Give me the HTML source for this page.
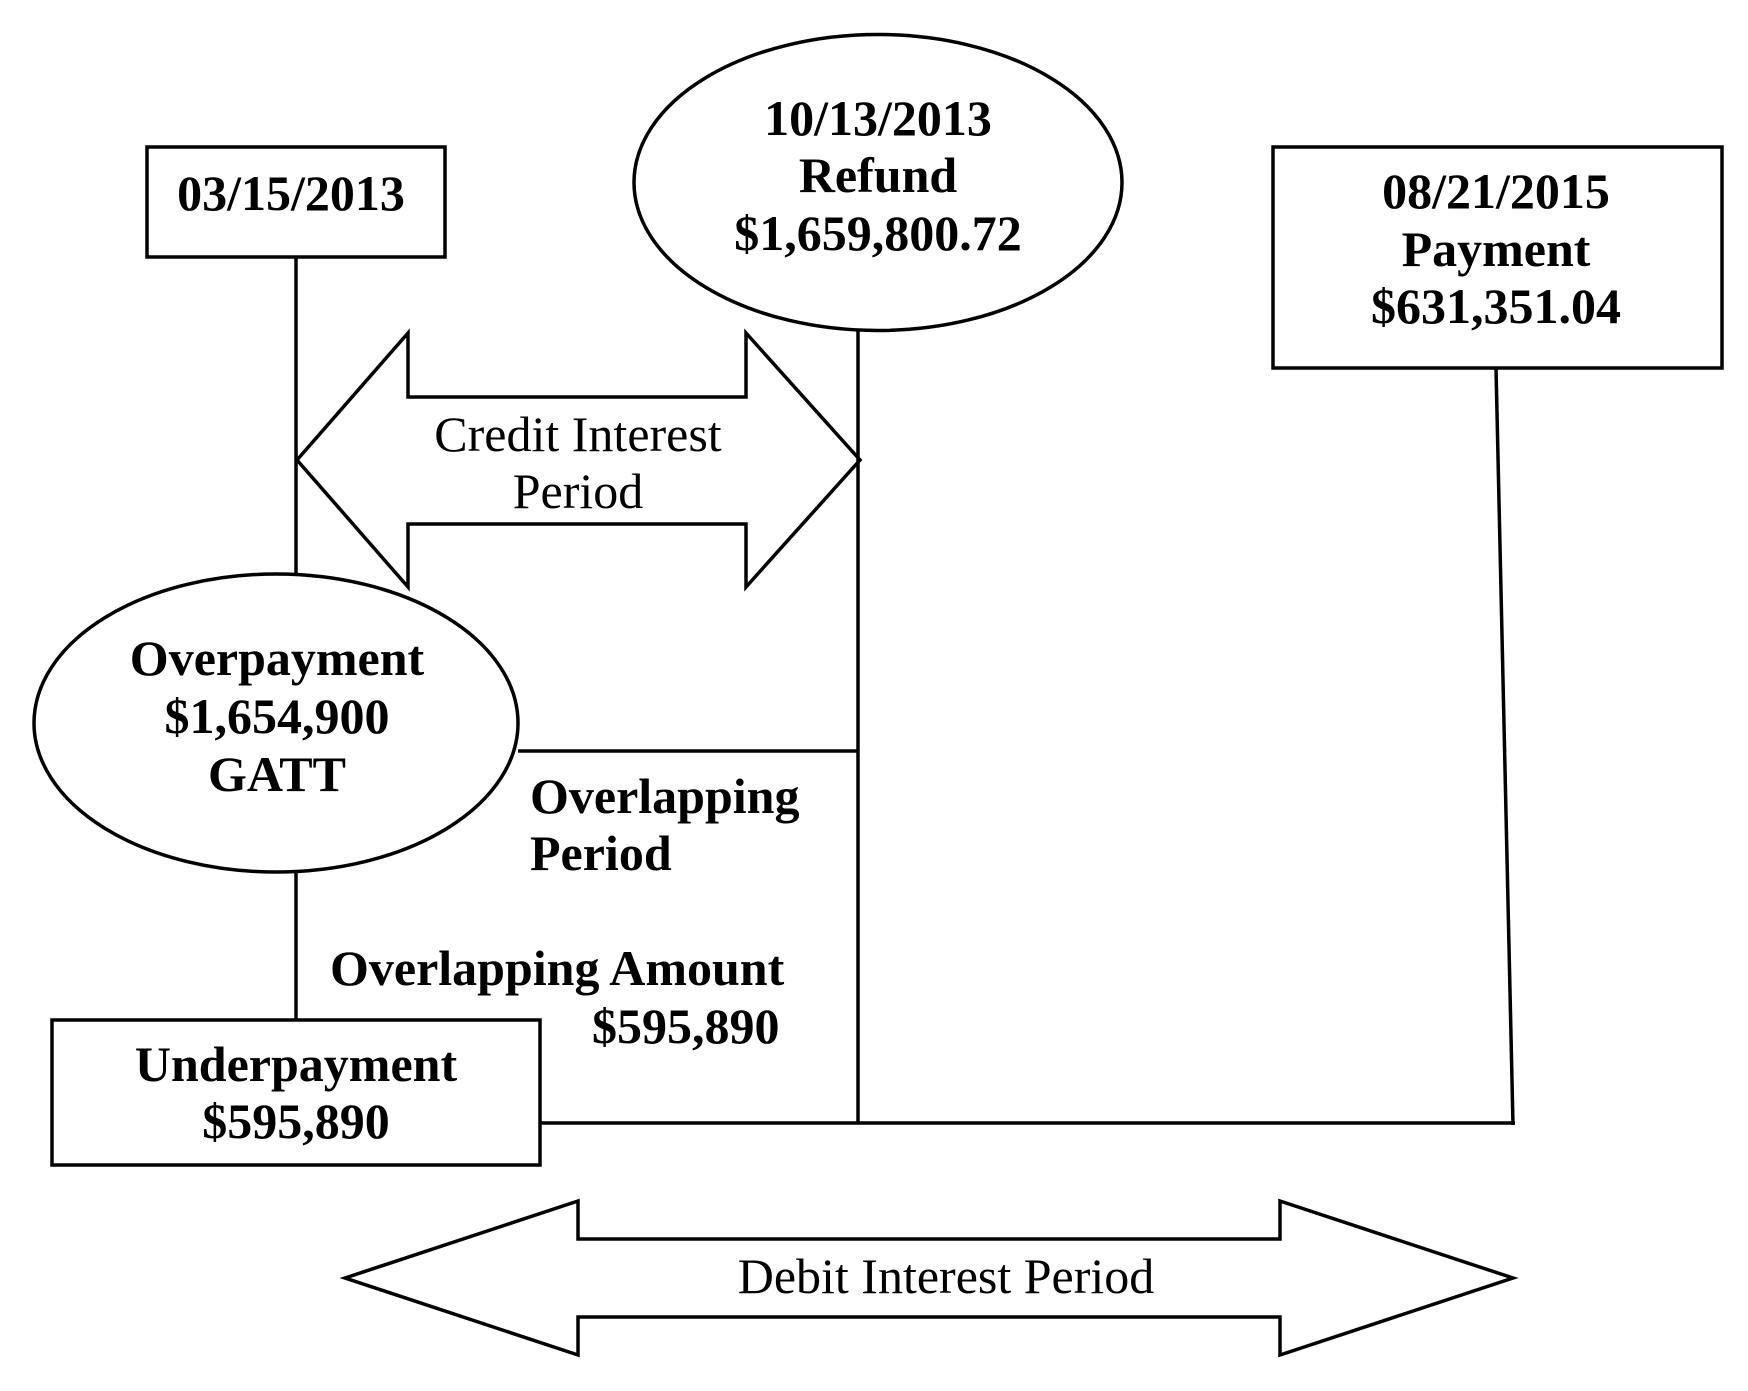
<!DOCTYPE html>
<html>
<head>
<meta charset="utf-8">
<style>
  html, body { margin: 0; padding: 0; background: #fff; }
  body { width: 1748px; height: 1391px; overflow: hidden; }
  svg { display: block; }
  .b { font-family: "Liberation Serif", "Times New Roman", serif; font-weight: bold; font-size: 50px; fill: #000; }
  .r { font-family: "Liberation Serif", "Times New Roman", serif; font-weight: normal; font-size: 50px; fill: #000; }
</style>
</head>
<body>
<svg width="1748" height="1391" viewBox="0 0 1748 1391" xmlns="http://www.w3.org/2000/svg">
  <rect x="0" y="0" width="1748" height="1391" fill="#fff"/>
  <g fill="none" stroke="#000" stroke-width="3.5">
    <!-- Box 03/15/2013 -->
    <rect x="147" y="147" width="298" height="110"/>
    <line x1="296" y1="257" x2="296" y2="575"/>
    <!-- Overpayment ellipse -->
    <ellipse cx="276" cy="723" rx="242" ry="149"/>
    <line x1="296" y1="872" x2="296" y2="1020"/>
    <!-- Underpayment box -->
    <rect x="52" y="1020" width="488" height="145"/>
    <!-- Refund ellipse -->
    <ellipse cx="878" cy="182.5" rx="244" ry="148"/>
    <line x1="858" y1="331" x2="858" y2="1123"/>
    <!-- Overlap horizontal -->
    <line x1="518" y1="751" x2="858" y2="751"/>
    <!-- bottom horizontal -->
    <line x1="540" y1="1123" x2="1515" y2="1123"/>
    <!-- slanted line from payment box -->
    <line x1="1496" y1="368" x2="1513" y2="1125"/>
    <!-- Payment box -->
    <rect x="1273" y="147" width="449" height="221"/>
    <!-- Credit interest arrow -->
    <polygon points="297,460 408,333 408,397 746,397 746,333 860,460 746,587 746,524 408,524 408,587" stroke-linejoin="miter"/>
    <!-- Debit interest arrow -->
    <polygon points="345,1278 578,1201 578,1239 1280,1239 1280,1201 1513,1278 1280,1355 1280,1317 578,1317 578,1355" stroke-linejoin="miter"/>
  </g>

  <!-- Bold labels -->
  <text class="b" x="291" y="210" text-anchor="middle">03/15/2013</text>

  <text class="b" x="878" y="135" text-anchor="middle">10/13/2013</text>
  <text class="b" x="878" y="192" text-anchor="middle">Refund</text>
  <text class="b" x="878" y="250" text-anchor="middle">$1,659,800.72</text>

  <text class="b" x="1496" y="208" text-anchor="middle">08/21/2015</text>
  <text class="b" x="1496" y="266" text-anchor="middle">Payment</text>
  <text class="b" x="1496" y="323" text-anchor="middle">$631,351.04</text>

  <text class="b" x="277" y="675" text-anchor="middle">Overpayment</text>
  <text class="b" x="277" y="733" text-anchor="middle">$1,654,900</text>
  <text class="b" x="277" y="791" text-anchor="middle">GATT</text>

  <text class="b" x="296" y="1081" text-anchor="middle">Underpayment</text>
  <text class="b" x="296" y="1138" text-anchor="middle">$595,890</text>

  <text class="b" x="530" y="813">Overlapping</text>
  <text class="b" x="530" y="870">Period</text>

  <text class="b" x="330" y="985">Overlapping Amount</text>
  <text class="b" x="592" y="1043">$595,890</text>

  <!-- Regular labels -->
  <text class="r" x="578" y="451" text-anchor="middle">Credit Interest</text>
  <text class="r" x="578" y="508" text-anchor="middle">Period</text>
  <text class="r" x="946" y="1293" text-anchor="middle">Debit Interest Period</text>
</svg>
</body>
</html>
